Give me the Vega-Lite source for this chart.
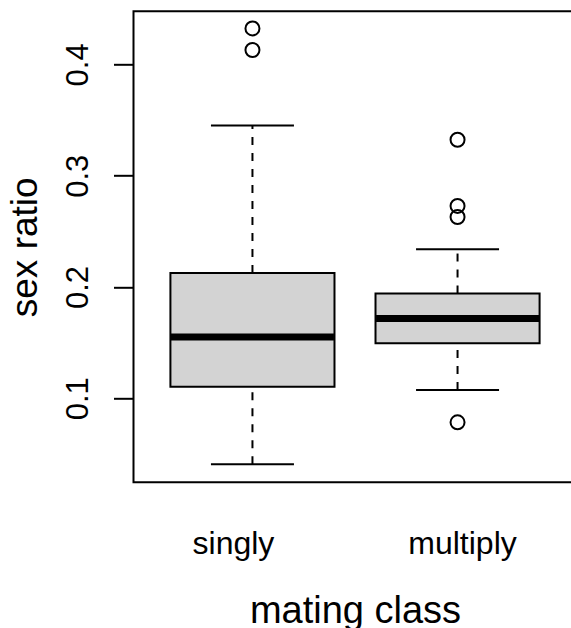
{
  "$schema": "https://vega.github.io/schema/vega-lite/v6.json",
  "autosize": {"type": "none"},
  "padding": {"left": 133.5, "top": 11.3, "right": 0, "bottom": 145.7},
  "width": 443,
  "height": 471,
  "background": "white",
  "config": {
    "view": {"stroke": "black", "strokeWidth": 2},
    "font": "Liberation Sans"
  },
  "datasets": {
    "boxes": [
      {"class": "singly", "lo": 0.0407, "q1": 0.1104, "med": 0.155, "q3": 0.2126, "hi": 0.345},
      {"class": "multiply", "lo": 0.1075, "q1": 0.1495, "med": 0.1716, "q3": 0.1941, "hi": 0.2339}
    ],
    "outliers": [
      {"class": "singly", "ratio": 0.4323},
      {"class": "singly", "ratio": 0.4129},
      {"class": "multiply", "ratio": 0.3323},
      {"class": "multiply", "ratio": 0.2728},
      {"class": "multiply", "ratio": 0.2629},
      {"class": "multiply", "ratio": 0.0784}
    ]
  },
  "encoding": {
    "x": {
      "field": "class",
      "type": "nominal",
      "sort": ["singly", "multiply"],
      "scale": {"paddingInner": 0.2, "paddingOuter": 0.18},
      "axis": {
        "title": "mating class",
        "domain": false,
        "ticks": false,
        "tickSize": 0,
        "labelAngle": 0,
        "labelFontSize": 32,
        "labelColor": "black",
        "labelBaseline": "alphabetic",
        "labelPadding": 71,
        "labelOffset": {"expr": "datum.value === 'singly' ? -19 : 5"},
        "titleFontSize": 38,
        "titleFontWeight": "normal",
        "titleColor": "black",
        "titleBaseline": "alphabetic",
        "titlePadding": 63
      }
    }
  },
  "layer": [
    {
      "data": {"name": "boxes"},
      "mark": {"type": "rule", "stroke": "black", "strokeWidth": 2, "strokeDash": [8, 8]},
      "encoding": {
        "y": {
          "field": "q3",
          "type": "quantitative",
          "scale": {"domain": [0.0245, 0.4477], "nice": false, "zero": false},
          "axis": {
            "title": "sex ratio",
            "values": [0.1, 0.2, 0.3, 0.4],
            "format": ".1f",
            "grid": false,
            "domain": false,
            "tickSize": 20,
            "tickWidth": 2,
            "tickColor": "black",
            "labelAngle": 270,
            "labelAlign": "center",
            "labelBaseline": "alphabetic",
            "labelPadding": 26,
            "labelFontSize": 31,
            "labelColor": "black",
            "titleFontSize": 37,
            "titleFontWeight": "normal",
            "titleColor": "black",
            "titleBaseline": "alphabetic",
            "titlePadding": 26
          }
        },
        "y2": {"field": "hi"}
      }
    },
    {
      "data": {"name": "boxes"},
      "mark": {"type": "rule", "stroke": "black", "strokeWidth": 2, "strokeDash": [8, 8]},
      "encoding": {
        "y": {"field": "lo", "type": "quantitative"},
        "y2": {"field": "q1"}
      }
    },
    {
      "data": {"name": "boxes"},
      "mark": {"type": "tick", "color": "black", "size": 83, "thickness": 2, "opacity": 1},
      "encoding": {"y": {"field": "hi", "type": "quantitative"}}
    },
    {
      "data": {"name": "boxes"},
      "mark": {"type": "tick", "color": "black", "size": 83, "thickness": 2, "opacity": 1},
      "encoding": {"y": {"field": "lo", "type": "quantitative"}}
    },
    {
      "data": {"name": "boxes"},
      "mark": {"type": "bar", "fill": "#d3d3d3", "stroke": "black", "strokeWidth": 2, "opacity": 1},
      "encoding": {
        "y": {"field": "q1", "type": "quantitative"},
        "y2": {"field": "q3"}
      }
    },
    {
      "data": {"name": "boxes"},
      "mark": {"type": "tick", "color": "black", "size": 163, "thickness": 7, "opacity": 1},
      "encoding": {"y": {"field": "med", "type": "quantitative"}}
    },
    {
      "data": {"name": "outliers"},
      "mark": {"type": "point", "shape": "circle", "filled": false, "stroke": "black", "strokeWidth": 2, "size": 196, "opacity": 1},
      "encoding": {"y": {"field": "ratio", "type": "quantitative"}}
    }
  ]
}
